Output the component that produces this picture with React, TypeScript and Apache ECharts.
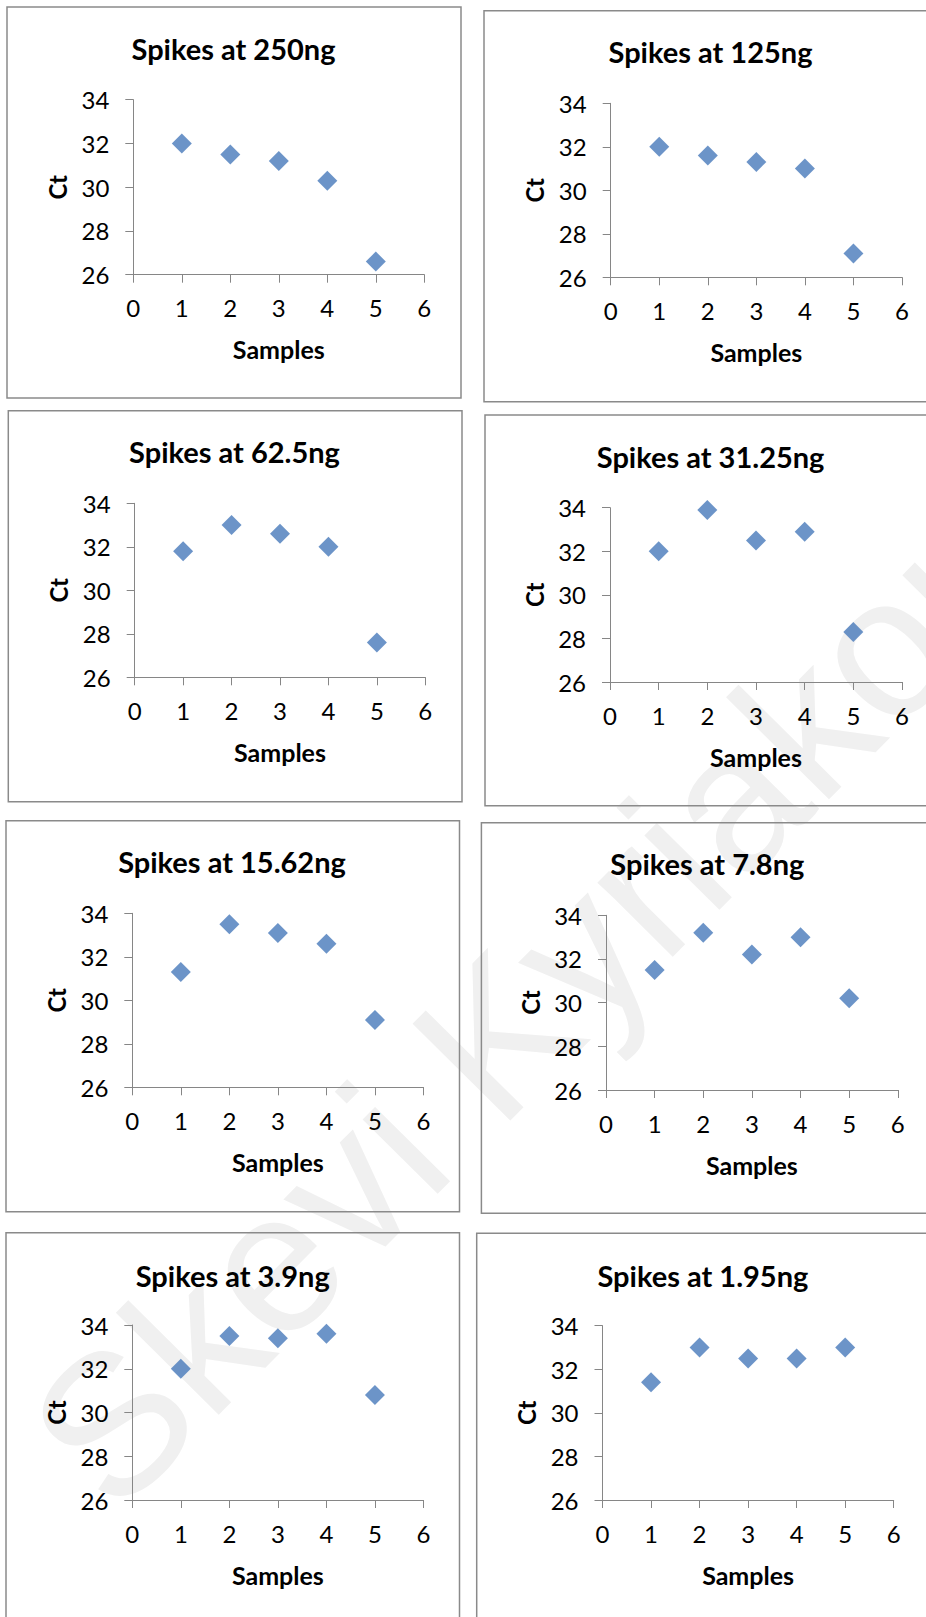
import { useEffect, useRef } from "react";
import * as echarts from "echarts";

// ---- data ----
const titles = [
  "Spikes at 250ng",
  "Spikes at 125ng",
  "Spikes at 62.5ng",
  "Spikes at 31.25ng",
  "Spikes at 15.62ng",
  "Spikes at 7.8ng",
  "Spikes at 3.9ng",
  "Spikes at 1.95ng",
];
const samples = [1, 2, 3, 4, 5];
const ct250 = [32.0, 31.5, 31.2, 30.3, 26.6];
const ct125 = [32.0, 31.6, 31.3, 31.0, 27.1];
const ct62_5 = [31.8, 33.0, 32.6, 32.0, 27.6];
const ct31_25 = [32.0, 33.9, 32.5, 32.9, 28.3];
const ct15_62 = [31.3, 33.5, 33.1, 32.6, 29.1];
const ct7_8 = [31.5, 33.2, 32.2, 33.0, 30.2];
const ct3_9 = [32.0, 33.5, 33.4, 33.6, 30.8];
const ct1_95 = [31.4, 33.0, 32.5, 32.5, 33.0];
const seriesValues = [ct250, ct125, ct62_5, ct31_25, ct15_62, ct7_8, ct3_9, ct1_95];
const xMin = 0;
const xMax = 6;
const xStep = 1;
const yMin = 26;
const yMax = 34;
const yStep = 2;
const xName = "Samples";
const yName = "Ct";
const watermark = "Skevi Kyriakou";

// ---- layout (pixels) ----
type Frame = { box: number[]; plot: number[]; title: number[] };
const frames: Frame[] = [
  { box: [7, 7, 461, 398], plot: [133.3, 99.7, 424.3, 274.7], title: [233.5, 48] },
  { box: [484, 10.7, 945, 401.7], plot: [610.7, 103.3, 902, 277.3], title: [710.5, 51.7] },
  { box: [8.3, 410.7, 462, 801.7], plot: [134.7, 503.3, 425.3, 677.3], title: [234.5, 451.7] },
  { box: [485, 415, 945, 805.7], plot: [610, 507.7, 902, 682], title: [710.6, 456.7] },
  { box: [6, 820.7, 459.5, 1211.7], plot: [132.3, 913.3, 423.5, 1087.3], title: [232, 861.7] },
  { box: [481.4, 822.7, 945, 1213.3], plot: [606, 915.3, 897.8, 1090], title: [707.3, 863.3] },
  { box: [6, 1232.7, 459.5, 1640], plot: [132.3, 1325, 423.5, 1500], title: [232.7, 1275] },
  { box: [476.7, 1233.3, 945, 1640], plot: [602.5, 1325.7, 893.7, 1500], title: [702.9, 1275] },
];

const FONT = "Lato, 'Open Sans', sans-serif";
const AXIS_COLOR = "#868686";
const BORDER_COLOR = "#8a8a8a";
const MARKER_COLOR = "#4779ba";

export default function App() {
  const ref = useRef<HTMLDivElement>(null);

  useEffect(() => {
    if (!ref.current) return;
    const chart = echarts.init(ref.current, null, { renderer: "svg" });

    const grid = frames.map((f) => ({
      left: f.plot[0],
      top: f.plot[1],
      width: f.plot[2] - f.plot[0],
      height: f.plot[3] - f.plot[1],
      containLabel: false,
    }));

    const xAxis = frames.map((_, i) => ({
      type: "value",
      gridIndex: i,
      min: xMin,
      max: xMax,
      interval: xStep,
      z: 3,
      axisLine: { show: true, lineStyle: { color: AXIS_COLOR, width: 1 } },
      axisTick: { show: true, inside: false, length: 8, lineStyle: { color: AXIS_COLOR, width: 1 } },
      splitLine: { show: false },
      axisLabel: { margin: 21, color: "#000", fontSize: 24, fontFamily: FONT },
      name: xName,
      nameLocation: "middle",
      nameGap: 62,
      nameTextStyle: { color: "#000", fontSize: 25, fontWeight: "bold", fontFamily: FONT },
    }));

    const yAxis = frames.map((_, i) => ({
      type: "value",
      gridIndex: i,
      min: yMin,
      max: yMax,
      interval: yStep,
      z: 3,
      axisLine: { show: true, lineStyle: { color: AXIS_COLOR, width: 1 } },
      axisTick: { show: true, inside: false, length: 8, lineStyle: { color: AXIS_COLOR, width: 1 } },
      splitLine: { show: false },
      axisLabel: { margin: 24, color: "#000", fontSize: 24, fontFamily: FONT },
      name: yName,
      nameLocation: "middle",
      nameRotate: 90,
      nameGap: 64,
      nameTextStyle: { color: "#000", fontSize: 24, fontWeight: "bold", fontFamily: FONT },
    }));

    const series = seriesValues.map((vals, i) => ({
      type: "scatter",
      xAxisIndex: i,
      yAxisIndex: i,
      symbol: "diamond",
      symbolSize: 20,
      z: 5,
      itemStyle: { color: MARKER_COLOR },
      data: samples.map((s, j) => [s, vals[j]]),
    }));

    const graphic: any[] = [];
    graphic.push({
      type: "text",
      x: 66,
      y: 1470,
      rotation: 0.79,
      z: -10,
      silent: true,
      style: {
        text: watermark,
        fill: "#f0f0f0",
        font: "200px 'Liberation Sans', Arial, sans-serif",
        textAlign: "left",
        textVerticalAlign: "middle",
      },
    });
    frames.forEach((f, i) => {
      graphic.push({
        type: "rect",
        z: -5,
        silent: true,
        shape: { x: f.box[0], y: f.box[1], width: f.box[2] - f.box[0], height: f.box[3] - f.box[1] },
        style: { fill: "none", stroke: BORDER_COLOR, lineWidth: 1.5 },
      });
      graphic.push({
        type: "text",
        x: f.title[0],
        y: f.title[1],
        z: 5,
        silent: true,
        style: {
          text: titles[i],
          fill: "#000",
          font: `bold 29px ${FONT}`,
          textAlign: "center",
          textVerticalAlign: "middle",
        },
      });
    });

    chart.setOption({
      animation: false,
      backgroundColor: "#ffffff",
      grid,
      xAxis,
      yAxis,
      series,
      graphic,
    });

    return () => chart.dispose();
  }, []);

  return (
    <div
      ref={ref}
      style={{ position: "absolute", left: 0, top: 0, width: 926, height: 1617, background: "#fff" }}
    />
  );
}
